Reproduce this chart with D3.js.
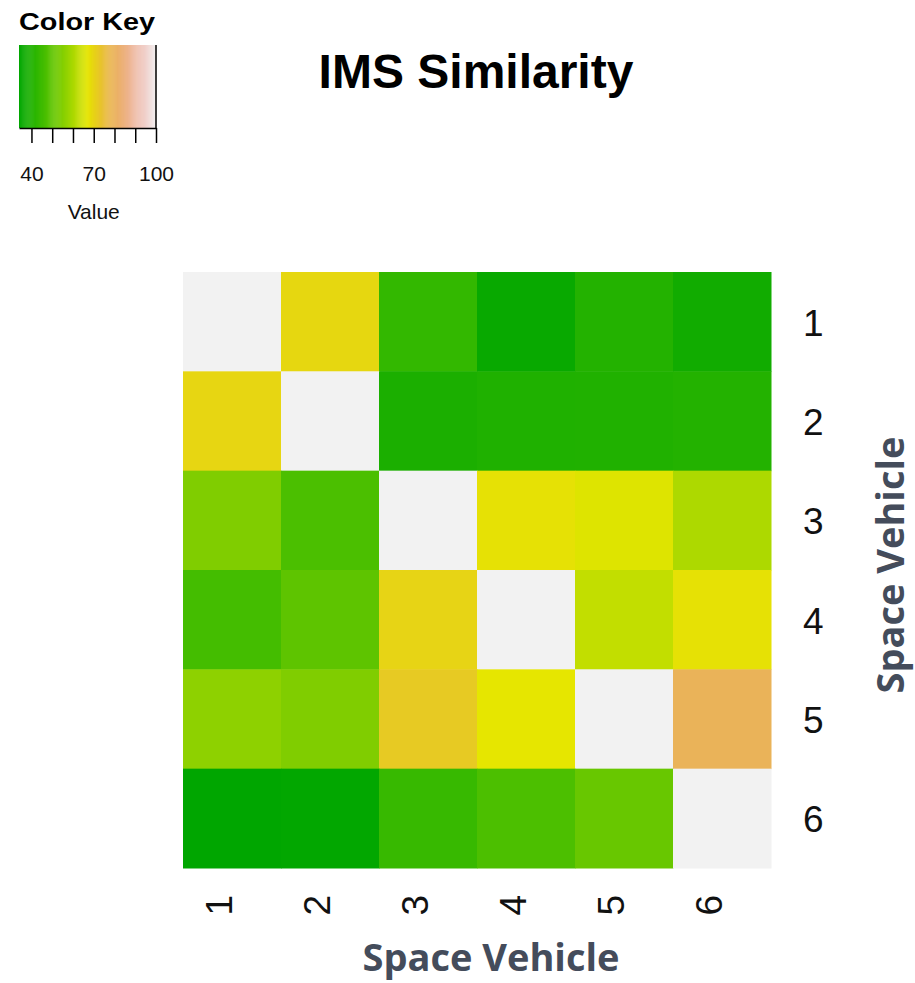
<!DOCTYPE html>
<html>
<head>
<meta charset="utf-8">
<style>
  body { margin: 0; background: #fff; }
  text { font-family: "Liberation Sans", Arial, sans-serif; }
</style>
</head>
<body>
<script src="https://d3js.org/d3.v7.min.js"></script>
<script>
  // vehicles and similarity matrix (rows top to bottom)
  const vehicles = ['1', '2', '3', '4', '5', '6']
  const row1 = [100, 69.3, 43.2, 35.6, 40.4, 37.3]
  const row2 = [69.6, 100, 39.0, 39.7, 40.0, 40.4]
  const row3 = [54.5, 46.9, 100, 67.7, 66.1, 60.4]
  const row4 = [45.9, 49.8, 70.0, 100, 62.9, 67.7]
  const row5 = [56.4, 54.5, 72.0, 67.0, 100, 79.5]
  const row6 = [34.0, 34.4, 43.8, 47.2, 51.2, 100]
  const rows = [row1, row2, row3, row4, row5, row6]
  const keyRange = [34, 100]
  const keyTicks = [40, 50, 60, 70, 80, 90, 100]
  const keyLabels = [40, 70, 100]

  const w = 915
  const h = 983

  // R's terrain.colors as a continuous ramp
  function hsv2rgb(hh, s, v) {
    const c = v * s
    const hp = (hh % 360) / 60
    const x = c * (1 - Math.abs(hp % 2 - 1))
    let r = 0, g = 0, b = 0
    if (hp < 1) { r = c; g = x }
    else if (hp < 2) { r = x; g = c }
    else if (hp < 3) { g = c; b = x }
    else if (hp < 4) { g = x; b = c }
    else if (hp < 5) { r = x; b = c }
    else { r = c; b = x }
    const m = v - c
    return d3.rgb((r + m) * 255, (g + m) * 255, (b + m) * 255).formatHex()
  }
  function terrain(t) {
    t = Math.max(0, Math.min(1, t))
    if (t <= 0.5) {
      const u = t / 0.5
      return hsv2rgb(120 - 60 * u, 1, 0.65 + 0.25 * u)
    }
    const u = (t - 0.5) / 0.5
    return hsv2rgb(60 - 60 * u, 1 - u, 0.9 + 0.05 * u)
  }
  const norm = d3.scaleLinear().domain(keyRange).range([0, 1]).clamp(true)
  const color = v => terrain(norm(v))

  const svg = d3.select('body').append('svg')
    .attr('width', w)
    .attr('height', h)

  // ---- heatmap
  const x = d3.scaleBand().domain(vehicles).range([183, 771])
  const y = d3.scaleBand().domain(vehicles).range([272, 868])

  const cells = []
  rows.forEach((r, i) => r.forEach((v, j) => cells.push({ row: vehicles[i], col: vehicles[j], value: v })))

  svg.append('g').selectAll('rect')
    .data(cells)
    .enter()
    .append('rect')
    .attr('x', d => x(d.col))
    .attr('y', d => y(d.row))
    .attr('width', x.bandwidth() + 0.5)
    .attr('height', y.bandwidth() + 0.5)
    .attr('fill', d => color(d.value))

  // row labels (right)
  svg.append('g').selectAll('text')
    .data(vehicles)
    .enter()
    .append('text')
    .attr('x', 803)
    .attr('y', d => y(d) + y.bandwidth() / 2 + 14)
    .attr('font-size', 37)
    .attr('fill', '#111')
    .text(d => d)

  // column labels (bottom, rotated)
  svg.append('g').selectAll('text')
    .data(vehicles)
    .enter()
    .append('text')
    .attr('transform', d => 'translate(' + (x(d) + x.bandwidth() / 2) + ',895) rotate(-90)')
    .attr('text-anchor', 'end')
    .attr('font-size', 37)
    .attr('fill', '#111')
    .text(d => d)

  // axis titles
  svg.append('text')
    .attr('x', 491)
    .attr('y', 971)
    .attr('text-anchor', 'middle')
    .style('font-family', '"Open Sans", sans-serif')
    .attr('font-weight', 'bold')
    .attr('font-size', 38)
    .attr('fill', '#444c5b')
    .text('Space Vehicle')

  svg.append('text')
    .attr('transform', 'translate(904,565) rotate(-90)')
    .attr('text-anchor', 'middle')
    .style('font-family', '"Open Sans", sans-serif')
    .attr('font-weight', 'bold')
    .attr('font-size', 38)
    .attr('fill', '#444c5b')
    .text('Space Vehicle')

  // title
  svg.append('text')
    .attr('x', 476)
    .attr('y', 88)
    .attr('text-anchor', 'middle')
    .attr('font-weight', 'bold')
    .attr('font-size', 48)
    .attr('fill', '#000')
    .text('IMS Similarity')

  // ---- colour key
  const kx = d3.scaleLinear().domain(keyRange).range([19, 156])
  const keyTop = 45
  const keyBottom = 128
  const steps = d3.range(keyRange[0], keyRange[1], 0.5)

  svg.append('text')
    .attr('x', 19)
    .attr('y', 30)
    .attr('font-weight', 'bold')
    .attr('font-size', 24)
    .attr('textLength', 136)
    .attr('lengthAdjust', 'spacingAndGlyphs')
    .text('Color Key')

  svg.append('g').selectAll('rect')
    .data(steps)
    .enter()
    .append('rect')
    .attr('x', d => kx(d))
    .attr('y', keyTop)
    .attr('width', kx(0.5 + keyRange[0]) - kx(keyRange[0]) + 0.4)
    .attr('height', keyBottom - keyTop)
    .attr('fill', d => color(d + 0.25))

  svg.append('line')
    .attr('x1', kx(keyRange[1])).attr('x2', kx(keyRange[1]))
    .attr('y1', keyTop).attr('y2', keyBottom)
    .attr('stroke', '#000').attr('stroke-width', 1.5)

  const keyAxis = d3.axisBottom(kx)
    .tickValues(keyTicks)
    .tickSize(15)
    .tickSizeOuter(0)
    .tickFormat(d => keyLabels.includes(d) ? d : '')

  const ka = svg.append('g')
    .attr('transform', 'translate(0,' + keyBottom + ')')
    .call(keyAxis)
  ka.select('.domain').attr('stroke', '#000').attr('stroke-width', 1.5)
  ka.selectAll('.tick line').attr('stroke', '#000').attr('stroke-width', 1.5)
  ka.selectAll('.tick text')
    .attr('y', 53)
    .attr('dy', 0)
    .attr('font-size', 21)
    .attr('font-family', '"Liberation Sans", Arial, sans-serif')
    .attr('fill', '#111')

  svg.append('text')
    .attr('x', kx(70))
    .attr('y', 219)
    .attr('text-anchor', 'middle')
    .attr('font-size', 21)
    .attr('fill', '#111')
    .text('Value')
</script>
</body>
</html>
